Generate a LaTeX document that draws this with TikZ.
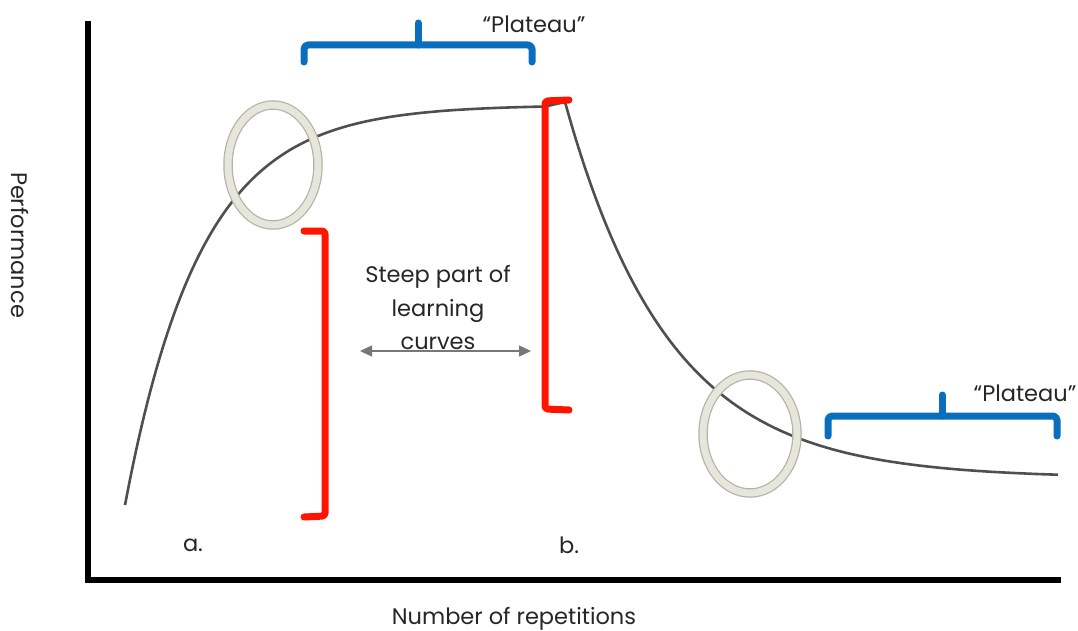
\documentclass[tikz,border=0pt]{standalone}
\usepackage{fontspec}
\setmainfont{Poppins}
\usetikzlibrary{arrows.meta}
\definecolor{curvegray}{HTML}{4F4F4F}
\definecolor{ringfillcol}{HTML}{E6E6DC}
\definecolor{ringedgecol}{HTML}{B4B4A4}
\definecolor{braceblue}{HTML}{0A6EBE}
\definecolor{bracketred}{HTML}{FF1400}
\definecolor{arrowgray}{HTML}{777777}
\tikzset{
  axis/.style={line width=6pt, black},
  lcurve/.style={line width=2.6pt, curvegray},
  ringouter/.style={line width=9.5pt, ringedgecol},
  ringbody/.style={line width=7pt, ringfillcol},
  brace/.style={line width=7pt, braceblue, line cap=round, line join=round, rounded corners=4pt},
  bracket/.style={line width=7pt, bracketred, line cap=round, line join=round, rounded corners=3pt},
  label/.style={font=\fontsize{22.5}{33.5}\selectfont, text=black!85, inner sep=0pt},
  dblarrow/.style={line width=1.4pt, arrowgray, {Triangle[length=12pt,width=11pt]}-{Triangle[length=12pt,width=11pt]}}
}
\begin{document}
\begin{tikzpicture}[x=1pt,y=-1pt]
\useasboundingbox (0,0) rectangle (1078,631);
% axes
\coordinate (ytop) at (88,21);
\coordinate (origin) at (88,580);
\coordinate (xend) at (1061,580);
\draw[axis] (ytop) -- (origin) -- (xend);
% learning curve
\draw[lcurve] plot[domain=125:545, samples=90, smooth] (\x, {505-400*(1-exp(-(\x-125)/75.5))})
  -- (565,102)
  -- plot[domain=565:1058, samples=100, smooth] (\x, {478-376*exp(-(\x-565)/104)});
% rings
\draw[ringouter] (273,165) ellipse [x radius=45, y radius=60];
\draw[ringbody] (273,165) ellipse [x radius=45, y radius=60];
\draw[ringouter] (750,434) ellipse [x radius=47, y radius=59];
\draw[ringbody] (750,434) ellipse [x radius=47, y radius=59];
% blue braces
\draw[brace] (304,62) -- (304,45) -- (532,45) -- (532,62);
\draw[brace, rounded corners=0pt] (418,45) -- (418,23);
\draw[brace] (828,436) -- (828,416) -- (1057,416) -- (1057,436);
\draw[brace, rounded corners=0pt] (942,416) -- (942,395);
% red brackets
\draw[bracket] (304,231) -- (325,231) -- (325,516) -- (304,517);
\draw[bracket] (569,100) -- (545,101) -- (545,409) -- (569,410);
% double arrow
\coordinate (arrL) at (360,351);
\coordinate (arrR) at (531,351);
\draw[dblarrow] (arrL) -- (arrR);
% texts
\node[label] (plat1) at (534,24) {“Plateau”};
\node[label] (plat2) at (1025,393) {“Plateau”};
\node[label, align=center] (steep) at (438,308) {Steep part of\\learning\\curves};
\node[label, rotate=-90] (perf) at (20,245) {Performance};
\node[label] (xlab) at (514,619) {Number of repetitions};
\node[label] (a) at (193,545) {a.};
\node[label] (b) at (569,545) {b.};
\end{tikzpicture}
\end{document}
